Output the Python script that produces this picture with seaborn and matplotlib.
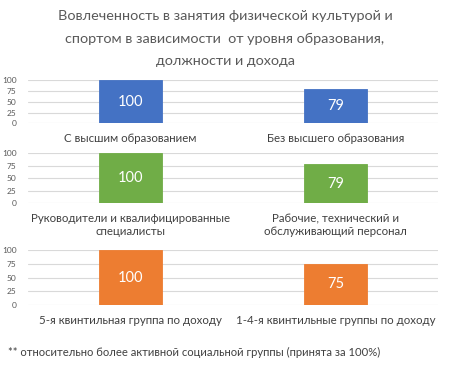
import matplotlib
matplotlib.use('Agg')
import matplotlib.pyplot as plt
import seaborn as sns
import pandas as pd

# data
education_labels = ['С высшим образованием', 'Без высшего образования']
education_values = [100, 79]
position_labels = ['Руководители и квалифицированные\nспециалисты',
                   'Рабочие, технический и\nобслуживающий персонал']
position_values = [100, 79]
income_labels = ['5-я квинтильная группа по доходу', '1-4-я квинтильные группы по доходу']
income_values = [100, 75]
y_ticks = [0, 25, 50, 75, 100]

title = ('Вовлеченность в занятия физической культурой и\n'
         'спортом в зависимости  от уровня образования,\n'
         'должности и дохода')
footnote = '** относительно более активной социальной группы (принята за 100%)'

sns.set_theme(style='white')
plt.rcParams['font.family'] = ['Lato', 'DejaVu Sans']

panels = [
    (education_labels, education_values, '#4472C4', [0.062, 0.663, 0.911, 0.118]),
    (position_labels, position_values, '#70AD47', [0.062, 0.4445, 0.911, 0.137]),
    (income_labels, income_values, '#ED7D31', [0.062, 0.1667, 0.911, 0.150]),
]

fig = plt.figure(figsize=(4.5, 3.66), dpi=100)
fig.patch.set_facecolor('white')

for labels, values, color, rect in panels:
    ax = fig.add_axes(rect)
    df = pd.DataFrame({'cat': labels, 'val': values})
    sns.barplot(data=df, x='cat', y='val', color=color, width=0.31,
                edgecolor=color, linewidth=0.6, saturation=1, ax=ax, zorder=3)
    ax.set_ylim(0, 100)
    ax.set_xlim(-0.5, 1.5)
    ax.set_yticks(y_ticks)
    ax.set_yticklabels([str(t) for t in y_ticks], fontsize=6, color='#595959')
    ax.yaxis.grid(True, color='#D9D9D9', linewidth=0.8, zorder=0)
    ax.set_xlabel('')
    ax.set_ylabel('')
    ax.tick_params(axis='x', length=0, pad=7, labelsize=8.3, labelcolor='#404040')
    ax.tick_params(axis='y', length=0, pad=8)
    for lbl in ax.get_xticklabels():
        lbl.set_horizontalalignment('center')
    for s in ax.spines.values():
        s.set_visible(False)
    for p, v in zip(ax.patches, values):
        ax.text(p.get_x() + p.get_width() / 2, v / 2, str(v), ha='center',
                va='center', color='white', fontsize=10.5, zorder=4)

fig.text(0.5, 1 - 10 / 366, title, ha='center', va='top', fontsize=10.4,
         color='#595959', linespacing=2.05)
fig.text(0.018, 0.038, footnote, ha='left', va='center', fontsize=8.1,
         color='#404040')

fig.savefig('out.png', dpi=100)
